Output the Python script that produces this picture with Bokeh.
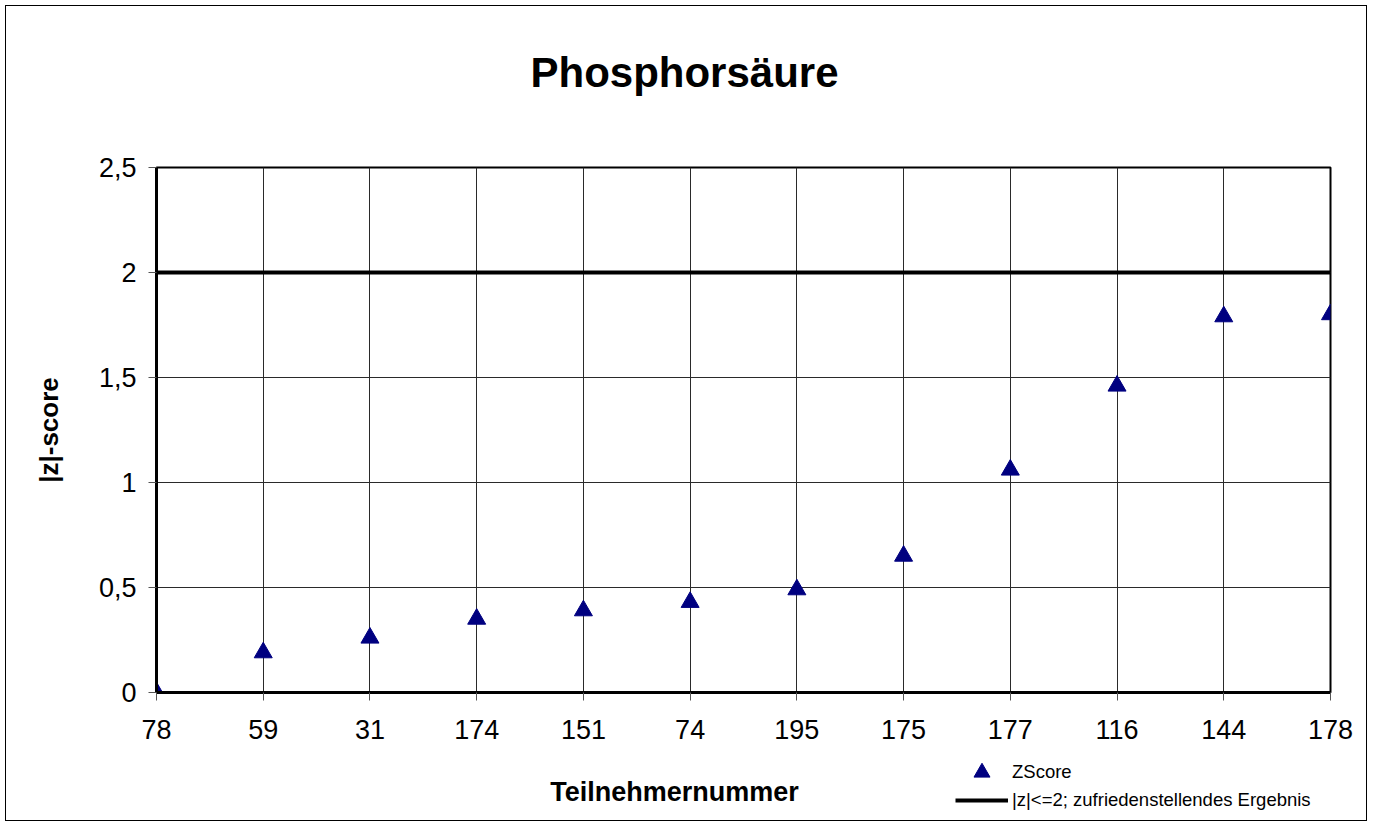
import math
from bokeh.plotting import figure
from bokeh.layouts import column
from bokeh.models import (Range1d, FixedTicker, Legend, LegendItem, ColumnDataSource, Label)
from bokeh.embed import file_html
from bokeh.resources import INLINE

# ---- data ----
participants = ["78", "59", "31", "174", "151", "74", "195", "175", "177", "116", "144", "178"]
zscores = [0.00, 0.19, 0.26, 0.35, 0.39, 0.43, 0.49, 0.65, 1.06, 1.46, 1.79, 1.80]
limit = 2.0
y_ticks = [0, 0.5, 1, 1.5, 2, 2.5]
y_tick_labels = ["0", "0,5", "1", "1,5", "2", "2,5"]

title_text = "Phosphorsäure"
x_label = "Teilnehmernummer"
y_label = "|z|-score"
series_name = "ZScore"
limit_name = "|z|<=2; zufriedenstellendes Ergebnis"

FONT = "Liberation Sans"
MARKER_COLOR = "#000080"
n = len(participants)
xs = list(range(n))
src = ColumnDataSource(dict(x=xs, z=zscores))


def band(height):
    """A figure without axes, used as a text band above or below the chart."""
    b = figure(width=1360, height=height, output_backend="svg", toolbar_location=None,
               title=None, x_axis_location=None, y_axis_location=None,
               x_range=Range1d(-2, -1), y_range=Range1d(-2, -1),
               min_border_left=150, min_border_right=36, min_border_top=0, min_border_bottom=0)
    b.outline_line_color = None
    b.grid.visible = False
    b.background_fill_color = "white"
    b.border_fill_color = "white"
    return b


# ---------------- title band ----------------
p0 = band(120)
p0.add_layout(Label(x=528, y=54, x_units="screen", y_units="screen", text=title_text,
                    text_font=FONT, text_font_size="42px", text_font_style="bold",
                    text_align="center", text_baseline="middle", text_color="black"))

# ---------------- main chart ----------------
p = figure(width=1360, height=626, output_backend="svg", toolbar_location=None,
           x_range=Range1d(0, n - 1), y_range=Range1d(0, 2.5),
           min_border_left=150, min_border_right=36, min_border_top=41, min_border_bottom=60)

p.outline_line_color = "black"
p.outline_line_width = 2
p.background_fill_color = "white"
p.border_fill_color = "white"

p.xaxis.ticker = FixedTicker(ticks=xs)
p.xaxis.major_label_overrides = {i: lab for i, lab in enumerate(participants)}
p.yaxis.ticker = FixedTicker(ticks=y_ticks)
p.yaxis.major_label_overrides = {t: lab for t, lab in zip(y_ticks, y_tick_labels)}
for ax in (p.xaxis, p.yaxis):
    ax.axis_line_color = "black"
    ax.axis_line_width = 3
    ax.major_tick_line_color = "#555555"
    ax.major_tick_line_width = 1
    ax.major_tick_out = 8
    ax.major_tick_in = 0
    ax.minor_tick_line_color = None
    ax.major_label_text_font = FONT
    ax.major_label_text_font_size = "27px"
    ax.major_label_text_color = "black"
    ax.axis_label_text_font = FONT
    ax.axis_label_text_font_size = "26px"
    ax.axis_label_text_font_style = "bold"
    ax.axis_label_text_color = "black"
p.xaxis.major_label_standoff = 19
p.yaxis.major_label_standoff = 12
p.yaxis.axis_label = y_label
p.yaxis.axis_label_standoff = 32

p.xgrid.ticker = FixedTicker(ticks=xs)
p.ygrid.ticker = FixedTicker(ticks=y_ticks)
p.xgrid.grid_line_color = "#2a2a2a"
p.ygrid.grid_line_color = "#2a2a2a"
p.xgrid.grid_line_width = 1
p.ygrid.grid_line_width = 1

p.line(x=[xs[0], xs[-1]], y=[limit, limit], line_color="black", line_width=4)
p.scatter(x="x", y="z", source=src, marker="triangle", size=18,
          fill_color=MARKER_COLOR, line_color=MARKER_COLOR)

# ---------------- bottom band: axis title + legend ----------------
p2 = band(68)
# same series drawn in this band (outside its visible range) so the legend can show them
leg_pts = p2.scatter(x="x", y="z", source=src, marker="triangle", size=18,
                     fill_color=MARKER_COLOR, line_color=MARKER_COLOR)
leg_line = p2.line(x=[xs[0], xs[-1]], y=[limit, limit], line_color="black", line_width=4)

legend_style = dict(orientation="vertical", glyph_width=53, label_height=20, label_standoff=4,
                    spacing=0, padding=0, margin=0,
                    border_line_color=None, background_fill_alpha=0,
                    label_text_font=FONT, label_text_font_size="18.5px",
                    label_text_color="black")
legend_pts = Legend(items=[LegendItem(label=series_name, renderers=[leg_pts])],
                    location=(799, 28), glyph_height=40, **legend_style)
legend_line = Legend(items=[LegendItem(label=limit_name, renderers=[leg_line])],
                     location=(799, 9), glyph_height=20, **legend_style)
p2.add_layout(legend_pts, "center")
p2.add_layout(legend_line, "center")

p2.add_layout(Label(x=518, y=29, x_units="screen", y_units="screen", text=x_label,
                    text_font=FONT, text_font_size="27px", text_font_style="bold",
                    text_align="center", text_baseline="middle", text_color="black"))

layout = column(p0, p, p2, spacing=0,
                styles={"margin-left": "5px", "margin-top": "5px", "border": "1px solid black"})

open("out.html", "w").write(file_html(layout, INLINE))
